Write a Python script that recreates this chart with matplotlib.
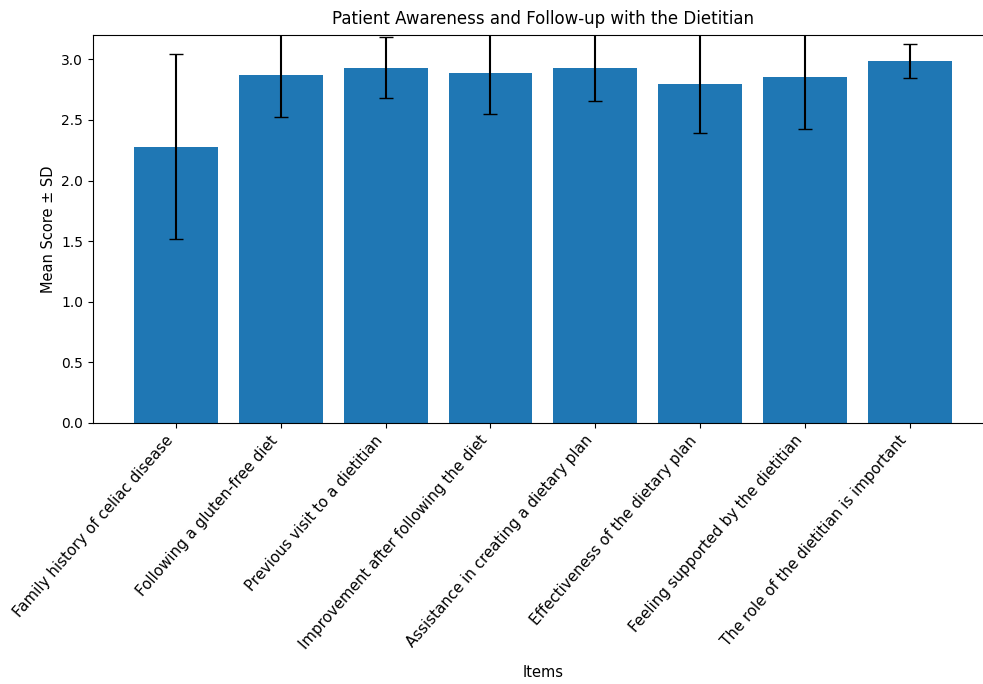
import matplotlib
matplotlib.use('Agg')
import matplotlib.pyplot as plt

# Items and their mean scores / standard deviations
items = ['Family history of celiac disease',
         'Following a gluten-free diet',
         'Previous visit to a dietitian',
         'Improvement after following the diet',
         'Assistance in creating a dietary plan',
         'Effectiveness of the dietary plan',
         'Feeling supported by the dietitian',
         'The role of the dietitian is important']
means = [2.28, 2.87, 2.93, 2.89, 2.93, 2.80, 2.855, 2.985]
sds = [0.76, 0.345, 0.25, 0.34, 0.275, 0.41, 0.43, 0.14]

fig = plt.figure(figsize=(9.83, 6.84), dpi=100)
ax = fig.add_axes([0.0946, 0.3816, 0.9154, 0.5672])  # right edge runs past the figure, as in the source

ax.bar(items, means, yerr=sds, capsize=5, color='#1f77b4')
ax.set_ylim(0, 3.2)
ax.set_title('Patient Awareness and Follow-up with the Dietitian', pad=8)
ax.set_xlabel('Items', fontsize=10.5, labelpad=9)
ax.set_ylabel('Mean Score ± SD', fontsize=10.5)
plt.setp(ax.get_xticklabels(), rotation=49, ha='right', fontsize=10.8)

fig.savefig('out.png', dpi=100)
